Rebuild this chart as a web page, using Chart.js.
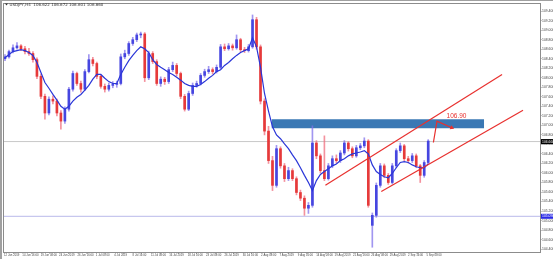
<!DOCTYPE html>
<html>
<head>
<meta charset="utf-8">
<script src="https://cdn.jsdelivr.net/npm/chart.js@4.4.1/dist/chart.umd.min.js"></script>
<style>
html, body { margin: 0; padding: 0; background: #ffffff; overflow: hidden; }
</style>
</head>
<body>
<canvas id="chart" width="553" height="259"></canvas>
<script>

// USDJPY H4 candles (one entry per candle).
var opens = [
    108.40, 108.44, 108.55, 108.63, 108.67, 108.61, 108.55, 108.51, 108.38, 108.03,
    107.61, 107.26, 107.55, 107.51, 107.26, 107.09, 107.34, 107.76, 108.09, 107.88,
    107.76, 108.13, 108.38, 108.30, 108.03, 107.82, 107.76, 107.84, 107.86, 107.88,
    108.44, 108.51, 108.72, 108.80, 108.90, 108.92, 108.00, 108.51, 108.34, 107.88,
    107.97, 107.92, 108.17, 108.26, 108.09, 107.61, 107.34, 107.67, 107.84, 107.88,
    108.05, 108.13, 108.17, 108.13, 108.22, 108.65, 108.61, 108.67, 108.63, 108.80,
    108.59, 108.57, 108.65, 109.22, 108.65, 107.51, 106.88, 106.26, 105.74, 106.51,
    106.15, 105.88, 106.05, 105.88, 105.59, 105.47, 105.26, 105.32, 106.63, 106.36,
    106.05, 105.88, 106.15, 106.30, 106.26, 106.42, 106.63, 106.51, 106.36, 106.53,
    106.57, 106.67, 104.90, 105.11, 105.74, 106.15, 105.95, 105.80, 106.15, 106.47,
    106.57, 106.30, 106.26, 106.36, 106.15, 105.95, 106.22
];
var highs = [
    108.49, 108.58, 108.69, 108.74, 108.70, 108.66, 108.62, 108.55, 108.42, 108.08,
    107.66, 107.60, 107.62, 107.55, 107.31, 107.39, 107.80, 108.14, 108.12, 107.93,
    108.17, 108.49, 108.43, 108.33, 108.06, 107.87, 107.89, 107.92, 107.93, 108.50,
    108.58, 108.76, 108.85, 108.94, 108.96, 108.95, 108.56, 108.55, 108.38, 108.02,
    108.01, 108.22, 108.33, 108.30, 108.12, 107.65, 107.72, 107.89, 107.93, 108.09,
    108.18, 108.24, 108.21, 108.27, 108.70, 108.71, 108.72, 108.71, 108.90, 108.83,
    108.64, 108.70, 109.32, 109.27, 108.69, 107.56, 106.98, 106.35, 106.58, 106.55,
    106.20, 106.12, 106.09, 105.92, 105.64, 105.52, 105.38, 106.99, 106.68, 106.40,
    106.78, 106.20, 106.36, 106.38, 106.47, 106.68, 106.66, 106.55, 106.58, 106.62,
    106.74, 106.70, 105.16, 105.79, 106.20, 106.19, 105.99, 106.20, 106.51, 106.63,
    106.60, 106.35, 106.41, 106.40, 106.18, 106.26, 106.70
];
var lows = [
    108.36, 108.41, 108.52, 108.60, 108.57, 108.50, 108.47, 108.33, 107.98, 107.56,
    107.13, 107.22, 107.45, 107.20, 106.92, 107.04, 107.30, 107.72, 107.84, 107.70,
    107.73, 108.10, 108.25, 107.98, 107.78, 107.70, 107.72, 107.79, 107.80, 107.85,
    108.40, 108.47, 108.68, 108.76, 108.84, 107.92, 107.96, 108.30, 107.84, 107.82,
    107.86, 107.88, 108.13, 108.04, 107.56, 107.30, 107.31, 107.63, 107.80, 107.85,
    108.01, 108.09, 108.08, 108.10, 108.19, 108.57, 108.58, 108.58, 108.60, 108.55,
    108.53, 108.54, 108.62, 108.60, 107.45, 106.80, 106.20, 105.63, 105.70, 106.10,
    105.82, 105.84, 105.84, 105.54, 105.42, 105.11, 105.15, 105.28, 106.30, 106.00,
    105.84, 105.85, 106.11, 106.21, 106.22, 106.38, 106.46, 106.32, 106.33, 106.49,
    106.53, 105.28, 104.44, 105.07, 105.70, 105.90, 105.76, 105.77, 106.11, 106.43,
    106.26, 106.21, 106.22, 106.11, 105.80, 105.91, 106.18
];
var closes = [
    108.44, 108.55, 108.63, 108.67, 108.61, 108.55, 108.51, 108.38, 108.03, 107.61,
    107.26, 107.55, 107.51, 107.26, 107.09, 107.34, 107.76, 108.09, 107.88, 107.76,
    108.13, 108.38, 108.30, 108.03, 107.82, 107.76, 107.84, 107.86, 107.88, 108.44,
    108.51, 108.72, 108.80, 108.90, 108.92, 108.00, 108.51, 108.34, 107.88, 107.97,
    107.92, 108.17, 108.26, 108.09, 107.61, 107.34, 107.67, 107.84, 107.88, 108.05,
    108.13, 108.17, 108.13, 108.22, 108.65, 108.61, 108.67, 108.63, 108.80, 108.59,
    108.57, 108.65, 109.22, 108.65, 107.51, 106.88, 106.26, 105.74, 106.51, 106.15,
    105.88, 106.05, 105.88, 105.59, 105.47, 105.26, 105.32, 106.63, 106.36, 106.05,
    105.88, 106.15, 106.30, 106.26, 106.42, 106.63, 106.51, 106.36, 106.53, 106.57,
    106.67, 105.32, 105.11, 105.74, 106.15, 105.95, 105.80, 106.15, 106.47, 106.57,
    106.30, 106.26, 106.36, 106.15, 105.95, 106.22, 106.67
];

// Moving average (blue line) per candle.
var movingAverage = [
    108.42, 108.49, 108.55, 108.57, 108.59, 108.57, 108.53, 108.47, 108.32, 108.11,
    107.90, 107.78, 107.65, 107.53, 107.40, 107.34, 107.40, 107.51, 107.59, 107.65,
    107.74, 107.84, 107.97, 108.07, 108.07, 107.99, 107.92, 107.88, 107.88, 108.07,
    108.22, 108.36, 108.47, 108.57, 108.65, 108.61, 108.53, 108.38, 108.28, 108.22,
    108.17, 108.11, 108.07, 108.01, 107.95, 107.88, 107.84, 107.82, 107.82, 107.86,
    107.92, 107.99, 108.05, 108.13, 108.17, 108.26, 108.32, 108.40, 108.47, 108.53,
    108.57, 108.61, 108.84, 108.65, 108.22, 107.67, 107.30, 106.97, 106.80, 106.72,
    106.61, 106.51, 106.38, 106.26, 106.11, 105.95, 105.80, 105.63, 105.84, 105.97,
    106.03, 106.09, 106.15, 106.19, 106.26, 106.30, 106.36, 106.40, 106.42, 106.44,
    106.47, 106.40, 106.17, 106.03, 105.97, 105.92, 105.90, 105.99, 106.11, 106.22,
    106.24, 106.22, 106.17, 106.13, 106.11, 106.11, 106.19
];

// Time axis labels (every few candles, MT4 style).
var xLabels = [
    "12 Jun 2019", "14 Jun 16:00", "19 Jun 08:00", "24 Jun 2019", "26 Jun 16:00",
    "1 Jul 08:00", "4 Jul 2019", "8 Jul 16:00", "11 Jul 08:00", "16 Jul 2019",
    "18 Jul 16:00", "23 Jul 08:00", "26 Jul 2019", "30 Jul 16:00", "2 Aug 08:00",
    "7 Aug 2019", "9 Aug 16:00", "14 Aug 08:00", "19 Aug 2019", "21 Aug 16:00",
    "26 Aug 08:00", "29 Aug 2019", "2 Sep 16:00", "5 Sep 08:00"
];

// Drawn objects on the chart (candle index, price).
var zoneX = [66.75, 120];
var zoneTop = 107.13;
var zoneBottom = 106.94;
var channelUpperX = [80.25, 124.5];
var channelUpperY = [105.74, 108.07];
var channelLowerX = [94.25, 129.75];
var channelLowerY = [105.61, 107.32];
var arrowX = [107.3, 108.2, 111.9];
var arrowY = [106.64, 107.09, 106.95];
var targetText = "106.90";
var targetX = 110.6;
var targetY = 107.19;
var priceLine = 106.660;
var levelLine = 105.090;
var titleText = "USDJPY,H4  106.622 106.672 106.601 106.660";

var X_MIN = -0.25;
var X_MAX = 134;
var X_LABEL_STEP = 4.6;
var Y_MIN = 104.34;
var Y_MAX = 109.55;

var UP_BODY = "#4646e0";
var DOWN_BODY = "#e63a3a";
var UP_WICK = "rgba(130,115,235,0.75)";
var DOWN_WICK = "rgba(240,110,125,0.75)";


/**
* Build the candle datasets (wicks and bodies as floating bars).
*/
function buildCandles() {

    var wicks = [], bodies = [], wickColors = [], bodyColors = [];

    closes.forEach( (close, i) => {
        var up = close >= opens[i];
        wicks.push({x: i, y: [lows[i], highs[i]]});
        bodies.push({x: i, y: [opens[i], close]});
        wickColors.push(up ? UP_WICK : DOWN_WICK);
        bodyColors.push(up ? UP_BODY : DOWN_BODY);
        });

    return([
        {
            type: "bar", data: wicks, backgroundColor: wickColors,
            barThickness: 1, grouped: false, borderWidth: 0, order: 4,
        },
        {
            type: "bar", data: bodies, backgroundColor: bodyColors,
            barThickness: 2, minBarLength: 1, grouped: false, borderWidth: 0, order: 3,
        },
        ]);

} // End of buildCandles()


/**
* Two-point line helper.
*/
function segment(xs, ys) {
    return(xs.map( (x, k) => ({x: x, y: ys[k]}) ));
}


/**
* Frame, title, price boxes and the target text.
*/
var overlayPlugin = {
    id: "overlay",
    afterDraw: function(chart) {

        var ctx = chart.ctx;
        var area = chart.chartArea;
        var xs = chart.scales.x, ys = chart.scales.y;

        ctx.save();

        // Window edge and plot frame.
        ctx.fillStyle = "#a0a0a0";
        ctx.fillRect(0, 0, 553, 1);
        ctx.fillRect(0, 0, 2, 259);
        ctx.strokeStyle = "#8c8c8c";
        ctx.lineWidth = 1;
        ctx.strokeRect(area.left - 0.5, area.top - 0.5, area.right - area.left + 1, area.bottom - area.top + 1);

        // Title.
        ctx.fillStyle = "#333333";
        ctx.font = "4px 'DejaVu Sans'";
        ctx.textBaseline = "middle";
        ctx.textAlign = "left";
        ctx.beginPath();
        ctx.moveTo(5, 3.5); ctx.lineTo(8, 3.5); ctx.lineTo(6.5, 5.5); ctx.closePath();
        ctx.fill();
        ctx.fillText(titleText, 9.5, 4.5);

        // Price boxes on the right axis.
        [[priceLine, "#000000"], [levelLine, "#2a2ae6"]].forEach( (item) => {
            var py = ys.getPixelForValue(item[0]);
            ctx.fillStyle = item[1];
            ctx.fillRect(area.right + 1, py - 2.5, 553 - area.right - 1, 5);
            ctx.fillStyle = "#ffffff";
            ctx.font = "3.4px 'Liberation Sans'";
            ctx.fillText(item[0].toFixed(3), area.right + 2, py);
            });

        // Target label.
        ctx.fillStyle = "#e8302e";
        ctx.font = "6.5px 'Liberation Sans'";
        ctx.fillText(targetText, xs.getPixelForValue(targetX), ys.getPixelForValue(targetY));

        ctx.restore();

    }
};


/**
* Draw the chart.
*/
function drawChart() {

    var datasets = buildCandles();

    datasets.push({
        type: "line", data: segment(zoneX, [zoneTop, zoneTop]),
        borderWidth: 0, pointRadius: 0, backgroundColor: "#3a78b4",
        fill: {value: zoneBottom}, order: 6,
        });
    datasets.push({
        type: "line", data: segment([X_MIN, X_MAX], [priceLine, priceLine]),
        borderColor: "#c8c8c8", borderWidth: 1, pointRadius: 0, order: 5,
        });
    datasets.push({
        type: "line", data: segment([X_MIN, X_MAX], [levelLine, levelLine]),
        borderColor: "#b9b9ea", borderWidth: 1, pointRadius: 0, order: 5,
        });
    datasets.push({
        type: "line", data: movingAverage.map( (v, i) => ({x: i, y: v}) ),
        borderColor: "#2a36d8", borderWidth: 1.2, pointRadius: 0, tension: 0, order: 2,
        });
    datasets.push({
        type: "line", data: segment(channelUpperX, channelUpperY),
        borderColor: "#e8302e", borderWidth: 1.2, pointRadius: 0, order: 1,
        });
    datasets.push({
        type: "line", data: segment(channelLowerX, channelLowerY),
        borderColor: "#e8302e", borderWidth: 1.2, pointRadius: 0, order: 1,
        });
    datasets.push({
        type: "line", data: segment(arrowX, arrowY),
        borderColor: "#e8302e", borderWidth: 1.2, order: 0,
        pointRadius: [0, 0, 2.6], pointStyle: "triangle", pointRotation: 114,
        pointBackgroundColor: "#e8302e", pointBorderWidth: 0,
        });

    var options = {
        responsive: false,
        animation: false,
        devicePixelRatio: 1,
        layout: { padding: {left: 3, top: 2, right: 0, bottom: 0} },
        plugins: { legend: {display: false}, tooltip: {enabled: false} },
        scales: {
            x: {
                type: "linear", min: X_MIN, max: X_MAX, offset: false,
                afterFit: function(scale) { scale.height = 7; },
                afterBuildTicks: function(scale) {
                    scale.ticks = xLabels.map( (label, k) => ({value: X_MIN + k * X_LABEL_STEP}) );
                },
                grid: { drawOnChartArea: false, tickLength: 1.5, color: "#8c8c8c" },
                border: { display: false },
                ticks: {
                    autoSkip: false, maxRotation: 0, align: "start", padding: 0.5,
                    color: "#444444", font: {size: 2.8, family: "Liberation Sans"},
                    callback: function(value, index) { return(xLabels[index]); },
                },
            },
            y: {
                type: "linear", position: "right", min: Y_MIN, max: Y_MAX,
                afterFit: function(scale) { scale.width = 13; },
                grid: { drawOnChartArea: false, tickLength: 1.5, color: "#8c8c8c" },
                border: { display: false },
                ticks: {
                    stepSize: 0.2, includeBounds: false, padding: 0.5,
                    color: "#444444", font: {size: 3.4, family: "Liberation Sans"},
                    callback: function(value) { return(value.toFixed(3)); },
                },
            },
        },
    };

    new Chart(document.getElementById("chart").getContext("2d"), {
        type: "bar",
        data: { datasets: datasets },
        options: options,
        plugins: [overlayPlugin],
        });

} // End of drawChart()

drawChart();

</script>
</body>
</html>
